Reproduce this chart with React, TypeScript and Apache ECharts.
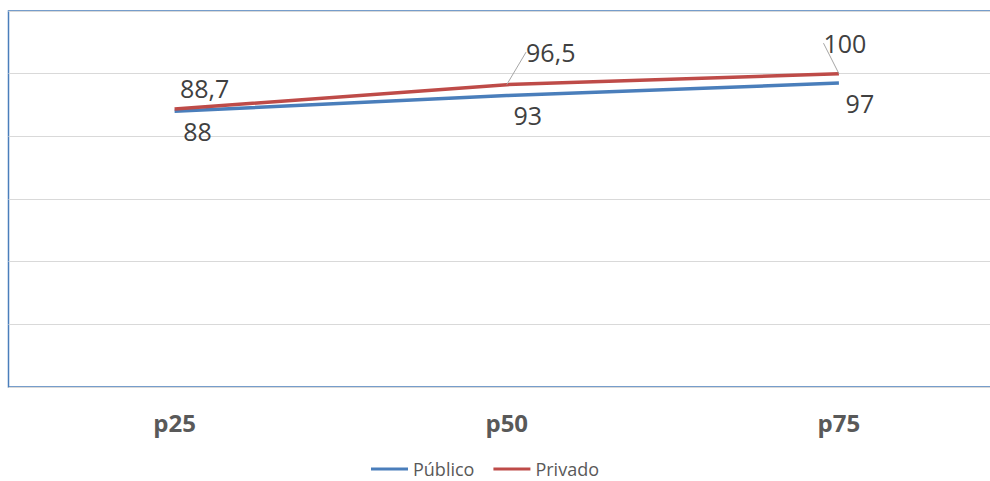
import React, { useEffect, useRef } from "react";
import * as echarts from "echarts";

const categories = ["p25", "p50", "p75"];
const publico = [88, 93, 97];
const privado = [88.7, 96.5, 100];
const yTicks = { min: 0, max: 120, interval: 20 };

const fmt = (v: number) => String(v).replace(".", ",");

// label nudges per series (dx, dy) so values sit like in the workbook chart
const publicoShift = [
  [23, 0],
  [21, 0],
  [21, 0],
];
const privadoShift = [
  [30, 0],
  [44, -11],
  [6, -9],
];

export default function App() {
  const ref = useRef<HTMLDivElement>(null);

  useEffect(() => {
    document.body.style.margin = "0";
    const chart = echarts.init(ref.current!, undefined, { renderer: "svg" });
    const labelFont = {
      fontFamily: "Open Sans",
      fontSize: 25,
      color: "#404040",
    };
    chart.setOption({
      animation: false,
      backgroundColor: "#ffffff",
      grid: {
        left: 8.5,
        top: 11,
        right: -15,
        bottom: 94,
        outerBoundsMode: "none",
        containLabel: false,
        show: true,
        borderColor: "#4a7ebb",
        borderWidth: 1.5,
        backgroundColor: "transparent",
      },
      legend: {
        top: 455,
        left: 366,
        icon: "rect",
        itemWidth: 37,
        itemHeight: 3,
        itemGap: 19,
        textStyle: { fontFamily: "Open Sans", fontSize: 18, color: "#595959" },
        data: ["Público", "Privado"],
      },
      xAxis: {
        type: "category",
        data: categories,
        boundaryGap: true,
        axisLine: { show: false },
        axisTick: { show: false },
        axisLabel: {
          margin: 23,
          fontFamily: "Open Sans",
          fontWeight: "bold",
          fontSize: 24,
          color: "#595959",
        },
      },
      yAxis: {
        type: "value",
        min: yTicks.min,
        max: yTicks.max,
        interval: yTicks.interval,
        axisLabel: { show: false },
        axisLine: { show: false },
        axisTick: { show: false },
        splitLine: { lineStyle: { color: "#d9d9d9", width: 1 } },
      },
      series: [
        {
          name: "Público",
          type: "line",
          data: publico,
          symbol: "circle",
          symbolSize: 0,
          lineStyle: { color: "#4a7ebb", width: 3.5 },
          itemStyle: { color: "#4a7ebb" },
          label: {
            show: true,
            position: "bottom",
            distance: 7,
            formatter: (p: any) => fmt(p.value),
            ...labelFont,
          },
          labelLayout: (p: any) => ({
            dx: publicoShift[p.dataIndex][0],
            dy: publicoShift[p.dataIndex][1],
          }),
        },
        {
          name: "Privado",
          type: "line",
          data: privado.map((v, i) => ({
            value: v,
            labelLine: { show: i > 0 },
          })),
          symbol: "circle",
          symbolSize: 0,
          lineStyle: { color: "#be4b48", width: 3.5 },
          itemStyle: { color: "#be4b48" },
          label: {
            show: true,
            position: "top",
            distance: 9,
            formatter: (p: any) => fmt(p.value),
            ...labelFont,
          },
          labelLine: {
            show: false,
            lineStyle: { color: "#a6a6a6", width: 1 },
          },
          labelLayout: (p: any) => ({
            dx: privadoShift[p.dataIndex][0],
            dy: privadoShift[p.dataIndex][1],
          }),
        },
      ],
    });
    return () => chart.dispose();
  }, []);

  return <div ref={ref} style={{ width: 990, height: 481 }} />;
}
